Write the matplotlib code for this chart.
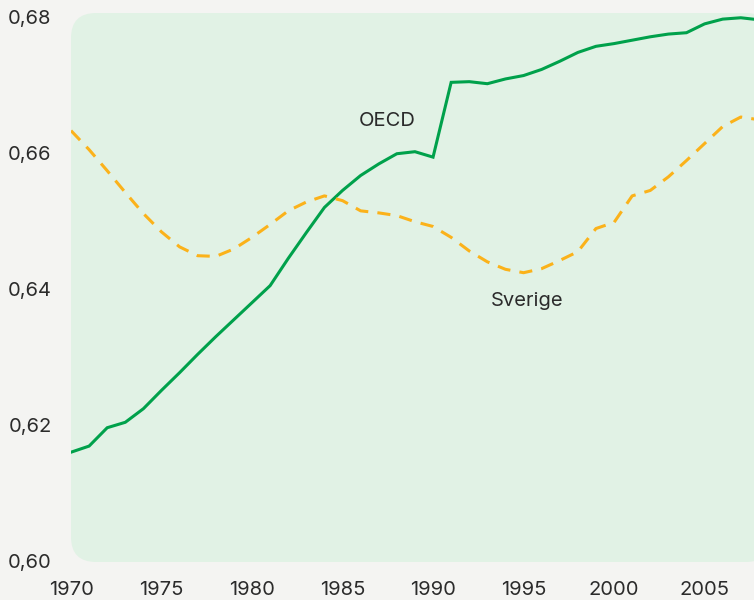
import matplotlib.pyplot as plt
from matplotlib.patches import FancyBboxPatch

years = list(range(1970, 2009))
oecd = [0.6160, 0.6169, 0.6196, 0.6204, 0.6224, 0.6251, 0.6277, 0.6304, 0.6330, 0.6355,
        0.6380, 0.6405, 0.6445, 0.6483, 0.6520, 0.6545, 0.6567, 0.6584, 0.6599, 0.6602,
        0.6594, 0.6704, 0.6705, 0.6702, 0.6709, 0.6714, 0.6723, 0.6735, 0.6748, 0.6757,
        0.6761, 0.6766, 0.6771, 0.6775, 0.6777, 0.6790, 0.6797, 0.6799, 0.6796]
sverige = [0.6633, 0.6605, 0.6574, 0.6542, 0.6511, 0.6484, 0.6462, 0.6449, 0.6448, 0.6459,
           0.6476, 0.6495, 0.6515, 0.6528, 0.6537, 0.6530, 0.6515, 0.6512, 0.6508, 0.6499,
           0.6492, 0.6476, 0.6456, 0.6440, 0.6429, 0.6424, 0.6430, 0.6442, 0.6455, 0.6489,
           0.6498, 0.6537, 0.6545, 0.6565, 0.6589, 0.6614, 0.6639, 0.6653, 0.6649]
xticks = [1970, 1975, 1980, 1985, 1990, 1995, 2000, 2005]
yticks = [0.60, 0.62, 0.64, 0.66, 0.68]
ytick_labels = ["0,60", "0,62", "0,64", "0,66", "0,68"]

green = "#00a14b"
orange = "#fbb21a"
text_col = "#2b2b2b"

plt.rcParams['font.family'] = ['Inter', 'DejaVu Sans']

fig = plt.figure(figsize=(7.54, 6.0), dpi=100)
fig.patch.set_facecolor("#f4f4f2")
ax = fig.add_axes([71/754, 1 - 562/600, 1 - 71/754, (562 - 13)/600])
ax.set_facecolor("none")

# rounded green panel (inches so the corners stay round)
panel = FancyBboxPatch((0.71, 0.38), 7.0, 5.49, boxstyle="round,pad=0,rounding_size=0.25",
                       transform=fig.dpi_scale_trans, facecolor="#e1f2e5", edgecolor="none",
                       zorder=-1)
fig.patches.append(panel)

ax.plot(years, oecd, color=green, lw=2.2, solid_joinstyle="miter", zorder=3)
ax.plot(years, sverige, color=orange, lw=2.2, dashes=(4.3, 3.0), zorder=3)

ax.text(1987.45, 0.6647, "OECD", fontsize=14.5, color=text_col, ha="center", va="center")
ax.text(1995.2, 0.6383, "Sverige", fontsize=14.5, color=text_col, ha="center", va="center")

ax.set_xlim(1970, 2007.73)
ax.set_ylim(0.59985, 0.6806)
ax.set_xticks(xticks)
ax.set_yticks(yticks)
ax.set_yticklabels(ytick_labels)
ax.tick_params(length=0, labelsize=14.5, colors=text_col)
ax.tick_params(axis="y", pad=14)
ax.tick_params(axis="x", pad=14)
for s in ax.spines.values():
    s.set_visible(False)

fig.savefig("out.png", dpi=100, facecolor=fig.get_facecolor())
